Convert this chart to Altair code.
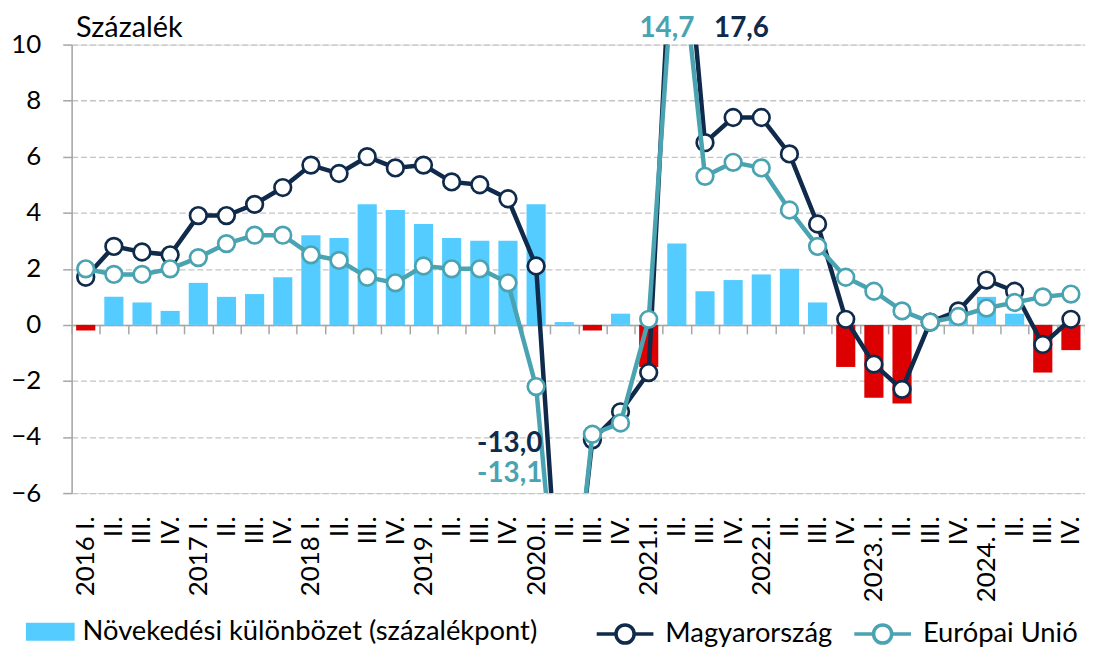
import altair as alt
import pandas as pd

# ---------------- data ----------------
quarter_labels = [
    "2016 I.", "II.", "III.", "IV.",
    "2017 I.", "II.", "III.", "IV.",
    "2018 I.", "II.", "III.", "IV.",
    "2019 I.", "II.", "III.", "IV.",
    "2020.I.", "II.", "III.", "IV.",
    "2021.I.", "II.", "III.", "IV.",
    "2022.I.", "II.", "III.", "IV.",
    "2023. I.", "II.", "III.", "IV.",
    "2024. I.", "II.", "III.", "IV.",
]
hu_growth = [1.7, 2.8, 2.6, 2.5, 3.9, 3.9, 4.3, 4.9, 5.7, 5.4, 6.0, 5.6,
             5.7, 5.1, 5.0, 4.5, 2.1, -13.0, -4.1, -3.1, -1.7, 17.6, 6.5, 7.4,
             7.4, 6.1, 3.6, 0.2, -1.4, -2.3, 0.1, 0.5, 1.6, 1.2, -0.7, 0.2]
eu_growth = [2.0, 1.8, 1.8, 2.0, 2.4, 2.9, 3.2, 3.2, 2.5, 2.3, 1.7, 1.5,
             2.1, 2.0, 2.0, 1.5, -2.2, -13.1, -3.9, -3.5, 0.2, 14.7, 5.3, 5.8,
             5.6, 4.1, 2.8, 1.7, 1.2, 0.5, 0.1, 0.3, 0.6, 0.8, 1.0, 1.1]
growth_diff = [-0.2, 1.0, 0.8, 0.5, 1.5, 1.0, 1.1, 1.7, 3.2, 3.1, 4.3, 4.1,
               3.6, 3.1, 3.0, 3.0, 4.3, 0.1, -0.2, 0.4, -1.5, 2.9, 1.2, 1.6,
               1.8, 2.0, 0.8, -1.5, -2.6, -2.8, 0.0, 0.2, 1.0, 0.4, -1.7, -0.9]

bar_name = "Növekedési különbözet (százalékpont)"
hu_name = "Magyarország"
eu_name = "Európai Unió"

ann_texts = ["14,7", "17,6", "-13,0", "-13,1"]
ann_quarter = [21, 21, 17, 17]
ann_values = [14.7, 17.6, -13.0, -13.1]
ann_series = [eu_name, hu_name, hu_name, eu_name]

# ---------------- styling ----------------
FONT = "Lato"
BLUE = "#55ccff"
RED = "#dd0000"
HU_COL = "#0f2a4a"
EU_COL = "#4aa3b1"
GREY = "#a6a6a6"
Y_MIN, Y_MAX = -6, 10
W, H = 1019, 451
LEG_FS = 27.5

keys = [f"{i:02d}|{lab}" for i, lab in enumerate(quarter_labels)]

bars_df = pd.DataFrame({"key": keys, "value": growth_diff, "series": bar_name})
lines_df = pd.concat([
    pd.DataFrame({"key": keys, "value": hu_growth, "series": hu_name}),
    pd.DataFrame({"key": keys, "value": eu_growth, "series": eu_name}),
])

x_axis = alt.Axis(
    orient="bottom", offset=-(0 - Y_MIN) / (Y_MAX - Y_MIN) * H,
    domain=True, domainColor=GREY, domainWidth=1.5,
    ticks=True, tickBand="extent", tickSize=9, tickColor=GREY, tickWidth=1.5,
    labelAngle=270, labelFontSize=26, labelFont=FONT, labelColor="black",
    labelPadding=183, labelOverlap=False,
    labelExpr="split(datum.label, '|')[1]",
    title=None, grid=False,
)
x_enc = alt.X("key:O", sort=keys,
              scale=alt.Scale(type="band", paddingInner=0, paddingOuter=0),
              axis=x_axis)

y_axis = alt.Axis(
    values=list(range(Y_MIN, Y_MAX + 1, 2)),
    grid=True, gridDash=[6, 3], gridColor="#c4c4c4", gridWidth=1.3,
    domainColor=GREY, domainWidth=1.5, tickColor=GREY, tickWidth=1.5, tickSize=9,
    labelFontSize=26, labelFont=FONT, labelColor="black", labelPadding=22,
    title="Százalék", titleAngle=0, titleAlign="left", titleBaseline="alphabetic",
    titleX=4, titleY=-8, titleFontSize=29, titleFont=FONT, titleFontWeight="normal",
    titleColor="black",
)
y_scale = alt.Scale(domain=[Y_MIN, Y_MAX], nice=False, zero=False)
y_enc = alt.Y("value:Q", scale=y_scale, axis=y_axis)

RECT_PATH = "M-1,-0.37H1V0.37H-1Z"
LINE_PATH = ("M-1,0H-0.32M0.32,0H1M0.32,0A0.32,0.32,0,1,1,-0.32,0"
             "A0.32,0.32,0,1,1,0.32,0Z")

bar_legend = alt.Legend(
    orient="none", legendX=-46, legendY=566, direction="horizontal", title=None,
    symbolType=RECT_PATH, symbolSize=2401, symbolStrokeWidth=0,
    labelFontSize=LEG_FS, labelFont=FONT, labelColor="black", labelOffset=8,
    labelLimit=0, padding=0,
)
line_legend = alt.Legend(
    orient="none", legendX=526, legendY=562, direction="horizontal", title=None,
    symbolType=LINE_PATH, symbolSize=3249, symbolFillColor="white",
    symbolStrokeWidth=3.5, symbolOpacity=1,
    labelFontSize=LEG_FS, labelFont=FONT, labelColor="black", labelOffset=10,
    labelLimit=0, columnPadding=15, padding=0,
)

pos_bars = alt.Chart(bars_df).transform_filter("datum.value >= 0").mark_bar(
    width=alt.RelativeBandSize(0.68)
).encode(
    x=x_enc, y=y_enc,
    fill=alt.Fill("series:N", scale=alt.Scale(domain=[bar_name], range=[BLUE]),
                  legend=bar_legend),
)
neg_bars = alt.Chart(bars_df).transform_filter("datum.value < 0").mark_bar(
    width=alt.RelativeBandSize(0.68), color=RED
).encode(x=x_enc, y=y_enc)

stroke_scale = alt.Scale(domain=[hu_name, eu_name], range=[HU_COL, EU_COL])

def series_layers(name):
    base = alt.Chart(lines_df).transform_filter(alt.datum.series == name)
    line = base.mark_line(strokeWidth=4.5, clip=True).encode(
        x=x_enc, y=y_enc,
        stroke=alt.Stroke("series:N", scale=stroke_scale, legend=line_legend),
    )
    pts = base.mark_point(filled=True, fill="white", size=280, strokeWidth=2.7,
                          opacity=1, clip=True).encode(
        x=x_enc, y=y_enc,
        stroke=alt.Stroke("series:N", scale=stroke_scale, legend=line_legend),
    )
    return [line, pts]

layers = [pos_bars, neg_bars] + series_layers(hu_name) + series_layers(eu_name)

# annotation styles (pixel offsets)
ann_style = [
    dict(align="center", dx=-10, dy=-8),
    dict(align="center", dx=65, dy=-8),
    dict(align="right", dx=-22, dy=-41),
    dict(align="right", dx=-22, dy=-11),
]
for txt, qi, val, ser, st in zip(ann_texts, ann_quarter, ann_values, ann_series, ann_style):
    adf = pd.DataFrame({"key": [keys[qi]], "value": [min(max(val, Y_MIN), Y_MAX)],
                        "label": [txt]})
    col = HU_COL if ser == hu_name else EU_COL
    layers.append(
        alt.Chart(adf).mark_text(font=FONT, fontSize=28, fontWeight="bold",
                                 color=col, baseline="alphabetic", **st)
        .encode(x=x_enc, y=y_enc, text="label:N")
    )

chart = alt.layer(*layers).properties(
    width=W, height=H,
    autosize=alt.AutoSizeParams(type="none"),
    padding={"left": 64, "top": 35, "right": 0, "bottom": 155},
).configure_view(stroke=None).configure(font=FONT)

chart.save("out.html", embed_options={"renderer": "svg", "actions": False})
